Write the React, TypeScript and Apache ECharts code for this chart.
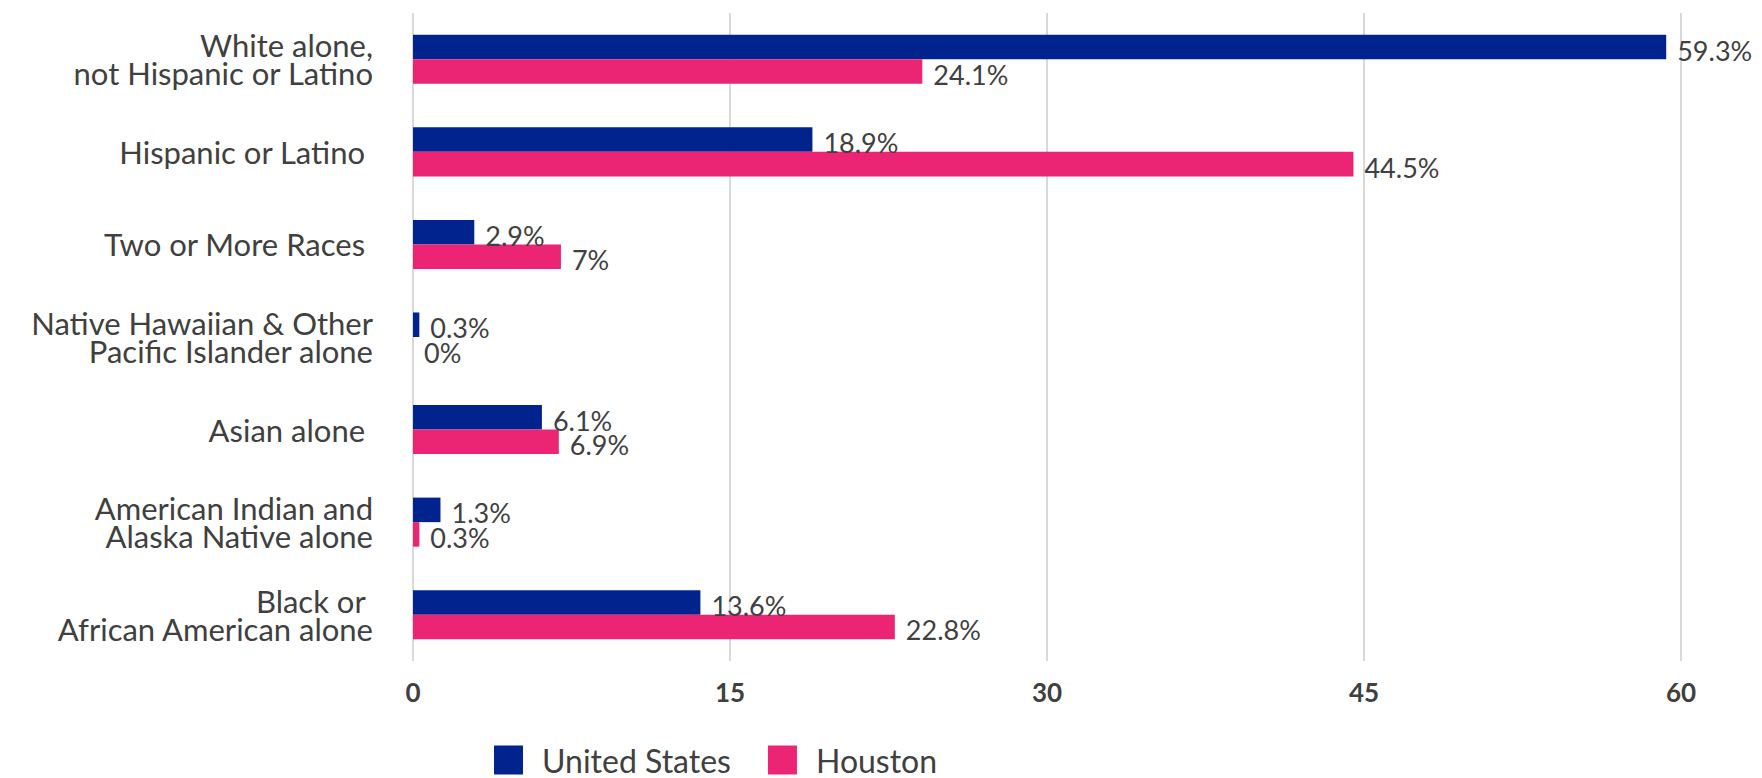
import React, { useEffect, useRef } from "react";
import * as echarts from "echarts";

const categories = [
  "White alone,\nnot Hispanic or Latino",
  "Hispanic or Latino ",
  "Two or More Races ",
  "Native Hawaiian & Other\nPacific Islander alone",
  "Asian alone ",
  "American Indian and\nAlaska Native alone",
  "Black or \nAfrican American alone",
];
const unitedStates = [59.3, 18.9, 2.9, 0.3, 6.1, 1.3, 13.6];
const houston = [24.1, 44.5, 7, 0, 6.9, 0.3, 22.8];
const xTicks = { min: 0, max: 60, interval: 15 };

const NAVY = "#00238E";
const PINK = "#EC2474";
const TEXT = "#404040";
const FONT = "Lato";

export default function App() {
  const ref = useRef<HTMLDivElement>(null);
  useEffect(() => {
    if (!ref.current) return;
    const chart = echarts.init(ref.current, undefined, { renderer: "svg" });
    const labelCfg = {
      show: true,
      position: "right" as const,
      distance: 11,
      offset: [0, 3],
      formatter: "{c}%",
      color: TEXT,
      fontSize: 27,
      fontFamily: FONT,
    };
    chart.setOption({
      animation: false,
      backgroundColor: "#ffffff",
      textStyle: { fontFamily: FONT },
      grid: { left: 413, right: 81, top: 13, bottom: 117, containLabel: false },
      legend: {
        left: 489,
        top: 739,
        itemWidth: 29,
        itemHeight: 29,
        itemGap: 37,
        icon: "rect",
        textStyle: {
          fontSize: 32,
          lineHeight: 32,
          color: TEXT,
          fontFamily: FONT,
          padding: [0, 0, 0, 14],
        },
        data: ["United States", "Houston"],
      },
      xAxis: {
        type: "value",
        min: xTicks.min,
        max: xTicks.max,
        interval: xTicks.interval,
        axisLine: { show: false },
        axisTick: { show: false },
        splitLine: { lineStyle: { color: "#d9d9d9", width: 2 } },
        axisLabel: { color: TEXT, fontSize: 26, fontWeight: "bold", fontFamily: FONT, margin: 18 },
      },
      yAxis: {
        type: "category",
        inverse: true,
        data: categories,
        axisLine: { show: false },
        axisTick: { show: false },
        axisLabel: { color: TEXT, fontSize: 31, lineHeight: 28, fontFamily: FONT, margin: 40 },
      },
      series: [
        {
          name: "United States",
          type: "bar",
          data: unitedStates,
          itemStyle: { color: NAVY },
          barGap: "0%",
          barCategoryGap: "47%",
          label: labelCfg,
        },
        {
          name: "Houston",
          type: "bar",
          data: houston,
          itemStyle: { color: PINK },
          barGap: "0%",
          barCategoryGap: "47%",
          label: labelCfg,
        },
      ],
    });
    return () => chart.dispose();
  }, []);
  return (
    <div
      ref={ref}
      style={{ position: "fixed", left: 0, top: 0, width: 1762, height: 778, background: "#fff" }}
    />
  );
}
